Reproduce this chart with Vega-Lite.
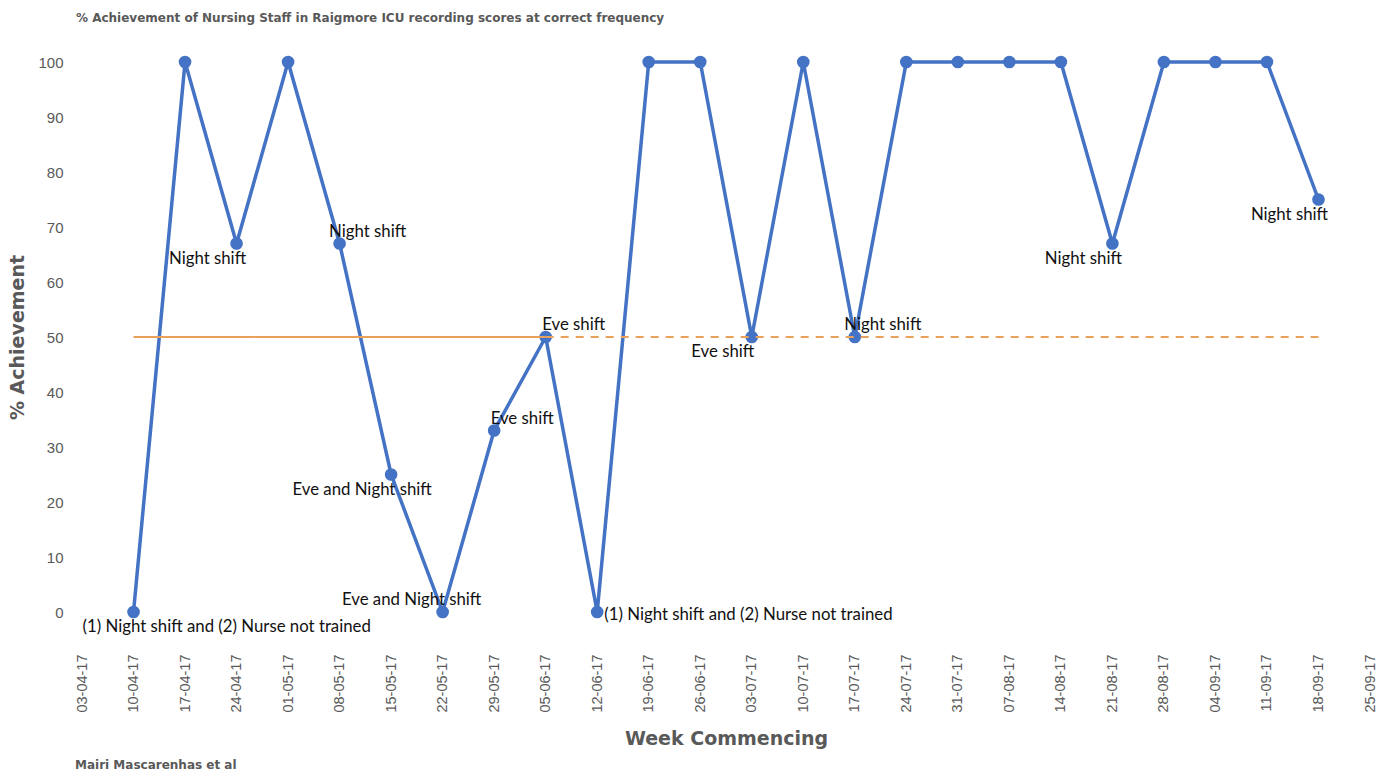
{
  "$schema": "https://vega.github.io/schema/vega-lite/v6.json",
  "background": "white",
  "padding": {"left": 8, "top": 12, "right": 5, "bottom": 5},
  "title": {
    "text": "% Achievement of Nursing Staff in Raigmore ICU recording scores at correct frequency",
    "anchor": "start", "frame": "bounds", "dx": 67, "offset": 30,
    "font": "DejaVu Sans", "fontSize": 12, "fontWeight": "bold", "color": "#595959"
  },
  "datasets": {
    "scores": [
      {"week": "10-04-17", "pct": 0, "note": "(1) Night shift and (2) Nurse not trained"},
      {"week": "17-04-17", "pct": 100, "note": ""},
      {"week": "24-04-17", "pct": 67, "note": "Night shift"},
      {"week": "01-05-17", "pct": 100, "note": ""},
      {"week": "08-05-17", "pct": 67, "note": "Night shift"},
      {"week": "15-05-17", "pct": 25, "note": "Eve and Night shift"},
      {"week": "22-05-17", "pct": 0, "note": "Eve and Night shift"},
      {"week": "29-05-17", "pct": 33, "note": "Eve shift"},
      {"week": "05-06-17", "pct": 50, "note": "Eve shift"},
      {"week": "12-06-17", "pct": 0, "note": "(1) Night shift and (2) Nurse not trained"},
      {"week": "19-06-17", "pct": 100, "note": ""},
      {"week": "26-06-17", "pct": 100, "note": ""},
      {"week": "03-07-17", "pct": 50, "note": "Eve shift"},
      {"week": "10-07-17", "pct": 100, "note": ""},
      {"week": "17-07-17", "pct": 50, "note": "Night shift"},
      {"week": "24-07-17", "pct": 100, "note": ""},
      {"week": "31-07-17", "pct": 100, "note": ""},
      {"week": "07-08-17", "pct": 100, "note": ""},
      {"week": "14-08-17", "pct": 100, "note": ""},
      {"week": "21-08-17", "pct": 67, "note": "Night shift"},
      {"week": "28-08-17", "pct": 100, "note": ""},
      {"week": "04-09-17", "pct": 100, "note": ""},
      {"week": "11-09-17", "pct": 100, "note": ""},
      {"week": "18-09-17", "pct": 75, "note": "Night shift"}
    ],
    "target": [
      {"from": "10-04-17", "to": "05-06-17", "target": 50, "phase": "Baseline"},
      {"from": "05-06-17", "to": "18-09-17", "target": 50, "phase": "Post"}
    ]
  },
  "vconcat": [
    {
      "width": 1288,
      "height": 550,
      "title": {
        "text": "Mairi Mascarenhas et al", "orient": "bottom", "anchor": "start", "frame": "group",
        "dx": -7, "offset": 12,
        "font": "DejaVu Sans", "fontSize": 12, "fontWeight": "bold", "color": "#595959"
      },
      "data": {"name": "scores"},
      "encoding": {
        "x": {
          "field": "week", "type": "ordinal", "sort": null,
          "scale": {
            "type": "point", "padding": 0,
            "domain": ["03-04-17","10-04-17","17-04-17","24-04-17","01-05-17","08-05-17","15-05-17","22-05-17","29-05-17","05-06-17","12-06-17","19-06-17","26-06-17","03-07-17","10-07-17","17-07-17","24-07-17","31-07-17","07-08-17","14-08-17","21-08-17","28-08-17","04-09-17","11-09-17","18-09-17","25-09-17"]
          },
          "axis": {
            "title": "Week Commencing", "labelAngle": -90, "labelAlign": "right", "labelBaseline": "middle",
            "labelPadding": 42, "domain": false, "ticks": false, "grid": false,
            "labelFont": "Liberation Sans", "labelFontSize": 14.5, "labelColor": "#595959",
            "titleFont": "DejaVu Sans", "titleFontSize": 19, "titleFontWeight": "bold", "titleColor": "#595959",
            "titlePadding": 17
          }
        },
        "y": {
          "field": "pct", "type": "quantitative",
          "scale": {"domain": [0, 100], "nice": false, "zero": true},
          "axis": {
            "title": "% Achievement", "values": [0,10,20,30,40,50,60,70,80,90,100],
            "domain": false, "ticks": false, "grid": false, "labelPadding": 19,
            "labelFont": "Liberation Sans", "labelFontSize": 15, "labelColor": "#595959",
            "titleFont": "DejaVu Sans", "titleFontSize": 19, "titleFontWeight": "bold", "titleColor": "#595959",
            "titlePadding": 10
          }
        }
      },
      "layer": [
        {"mark": {"type": "line", "color": "#4472C4", "strokeWidth": 3.5}},
        {"mark": {"type": "point", "filled": true, "opacity": 1, "color": "#4472C4", "size": 160}},
        {
          "data": {"name": "target"},
          "mark": {"type": "rule", "color": "#E8A05A", "strokeWidth": 2.2},
          "encoding": {
            "x": {"field": "from", "type": "ordinal"},
            "x2": {"field": "to"},
            "y": {"field": "target", "type": "quantitative"},
            "strokeDash": {"field": "phase", "type": "nominal", "scale": {"domain": ["Baseline", "Post"], "range": [[1, 0], [8, 7]]}, "legend": null}
          }
        },
        {
          "transform": [{"filter": {"field": "week", "oneOf": ["24-04-17","15-05-17","03-07-17","21-08-17","18-09-17"]}}],
          "mark": {"type": "text", "align": "center", "baseline": "middle", "dx": -29, "dy": 15, "font": "Lato", "fontSize": 16.8, "color": "#111111"},
          "encoding": {"text": {"field": "note"}}
        },
        {
          "transform": [{"filter": {"field": "week", "oneOf": ["08-05-17","29-05-17","05-06-17","17-07-17"]}}],
          "mark": {"type": "text", "align": "center", "baseline": "middle", "dx": 28, "dy": -12, "font": "Lato", "fontSize": 16.8, "color": "#111111"},
          "encoding": {"text": {"field": "note"}}
        },
        {
          "transform": [{"filter": {"field": "week", "oneOf": ["22-05-17"]}}],
          "mark": {"type": "text", "align": "center", "baseline": "middle", "dx": -31, "dy": -12, "font": "Lato", "fontSize": 16.8, "color": "#111111"},
          "encoding": {"text": {"field": "note"}}
        },
        {
          "transform": [{"filter": {"field": "week", "oneOf": ["10-04-17"]}}],
          "mark": {"type": "text", "align": "left", "baseline": "middle", "dx": -51, "dy": 15, "font": "Lato", "fontSize": 16.8, "color": "#111111"},
          "encoding": {"text": {"field": "note"}}
        },
        {
          "transform": [{"filter": {"field": "week", "oneOf": ["12-06-17"]}}],
          "mark": {"type": "text", "align": "left", "baseline": "middle", "dx": 7, "dy": 3, "font": "Lato", "fontSize": 16.8, "color": "#111111"},
          "encoding": {"text": {"field": "note"}}
        }
      ]
    }
  ],
  "config": {"view": {"stroke": null}}
}
